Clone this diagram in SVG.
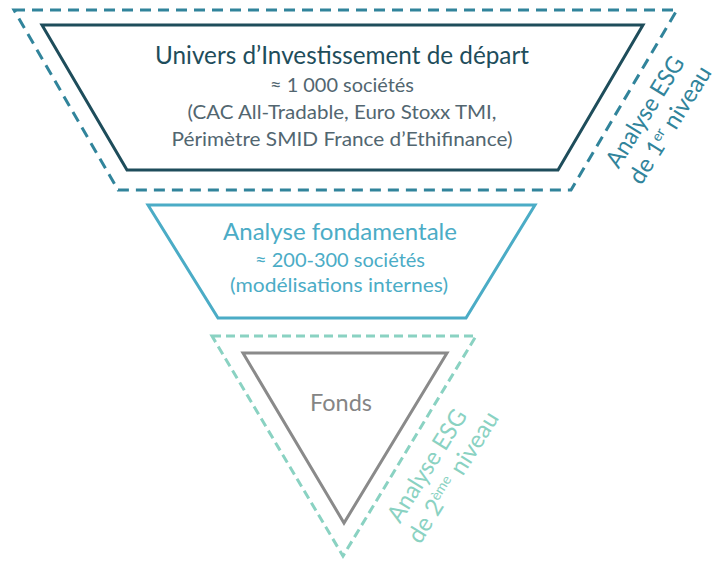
<svg xmlns="http://www.w3.org/2000/svg" width="718" height="562" viewBox="0 0 718 562">
  <style>
    text { font-family: Lato, "Open Sans", "Liberation Sans", sans-serif; text-anchor: middle; }
    .esg1-frame { fill: none; stroke: #31849b; stroke-width: 3; stroke-dasharray: 11 7; }
    .univers { fill: none; stroke: #1e4d5b; stroke-width: 3; stroke-linejoin: miter; }
    .fonda { fill: none; stroke: #4bacc6; stroke-width: 3; }
    .esg2-frame { fill: none; stroke: #8ad2c2; stroke-width: 3; stroke-dasharray: 9 5; }
    .fonds { fill: none; stroke: #8a8a8a; stroke-width: 3; }
    .title1 { fill: #1e4d5b; font-size: 25px; }
    .body1 { fill: #526670; font-size: 20px; }
    .title2 { fill: #4bacc6; font-size: 24px; }
    .body2 { fill: #4bacc6; font-size: 20px; }
    .fonds-t { fill: #858585; font-size: 24px; }
    .esg1-t { fill: #31849b; font-size: 24px; }
    .esg2-t { fill: #8ad2c2; font-size: 24px; }
  </style>
  <rect width="718" height="562" fill="#ffffff"/>

  <g id="esg-niveau-1">
    <polygon class="esg1-frame" points="14,10 677,10 571,190 118,190"/>
    <g transform="translate(652,116) rotate(-58)">
      <text class="esg1-t" x="0" y="0" textLength="126" lengthAdjust="spacingAndGlyphs">Analyse ESG</text>
      <text class="esg1-t" x="2" y="28">de 1<tspan dy="-8" font-size="14">er</tspan><tspan dy="8"> niveau</tspan></text>
    </g>
  </g>

  <g id="univers">
    <polygon class="univers" points="42,25 643,25 558,170 127,170"/>
    <text class="title1" x="342" y="64" textLength="374" lengthAdjust="spacingAndGlyphs">Univers d’Investissement de départ</text>
    <text class="body1" x="342" y="92" textLength="144" lengthAdjust="spacingAndGlyphs">≈ 1 000 sociétés</text>
    <text class="body1" x="342" y="119" textLength="309" lengthAdjust="spacingAndGlyphs">(CAC All-Tradable, Euro Stoxx TMI,</text>
    <text class="body1" x="342" y="146" textLength="341" lengthAdjust="spacingAndGlyphs">Périmètre SMID France d’Ethifinance)</text>
  </g>

  <g id="analyse-fondamentale">
    <polygon class="fonda" points="148,205 535,205 466,318 218,318"/>
    <text class="title2" x="340" y="240" textLength="234" lengthAdjust="spacingAndGlyphs">Analyse fondamentale</text>
    <text class="body2" x="340" y="267" textLength="170" lengthAdjust="spacingAndGlyphs">≈ 200-300 sociétés</text>
    <text class="body2" x="339" y="292" textLength="218" lengthAdjust="spacingAndGlyphs">(modélisations internes)</text>
  </g>

  <g id="esg-niveau-2">
    <polygon class="esg2-frame" points="212,336 476,336 343,556"/>
    <g transform="translate(434,470) rotate(-58)">
      <text class="esg2-t" x="0" y="0" textLength="128" lengthAdjust="spacingAndGlyphs">Analyse ESG</text>
      <text class="esg2-t" x="4" y="28">de 2<tspan dy="-8" font-size="14">ème</tspan><tspan dy="8" dx="8">niveau</tspan></text>
    </g>
  </g>

  <g id="fonds">
    <polygon class="fonds" points="243,353 447,353 344,523"/>
    <text class="fonds-t" x="341" y="411" textLength="62" lengthAdjust="spacingAndGlyphs">Fonds</text>
  </g>
</svg>
